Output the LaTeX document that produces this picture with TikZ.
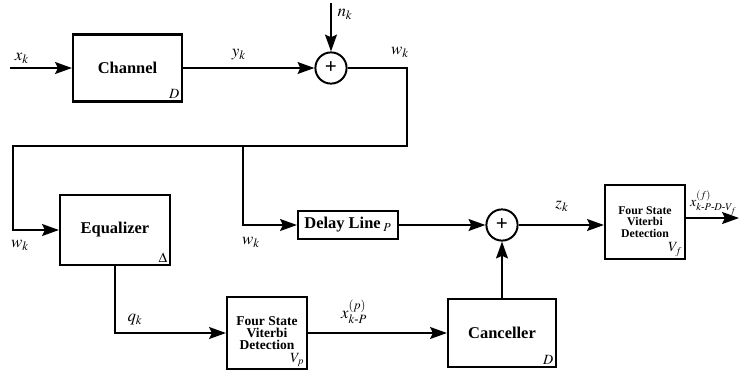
\documentclass[tikz,border=0pt]{standalone}
\usepackage{amsmath}
\usepackage{mathptmx}
\usepackage{fontspec}
\setmainfont{Liberation Serif}
\usetikzlibrary{arrows.meta, positioning}

\begin{document}
\begin{tikzpicture}[x=0.025cm, y=-0.025cm, line width=1.4pt,
    block/.style={draw, rectangle, line width=1.5pt, inner sep=0pt,
      font=\fontsize{11.7}{13}\selectfont\bfseries},
    vitbox/.style={block, align=center, font=\fontsize{9.6}{8.4}\selectfont\bfseries},
    sumnode/.style={draw, circle, minimum size=0.78cm, inner sep=0pt,
      font=\fontsize{15}{15}\selectfont\bfseries},
    corner/.style={anchor=south east, inner sep=2pt, font=\fontsize{10}{10}\selectfont},
    sig/.style={font=\fontsize{12}{13}\selectfont},
    flow/.style={-{Stealth[length=12pt, width=8.5pt, inset=2pt]}}]
  \useasboundingbox (0,0) rectangle (739,371);

  % blocks
  \node[block, minimum width=2.725cm, minimum height=1.675cm] (chan) at (127.5,68) {Channel};
  \node[corner] (chanD) at (chan.south east) {$D$};
  \node[sumnode] (sum1) at (331,68) {+};
  \node[block, minimum width=2.75cm, minimum height=1.75cm] (eq) at (115,230) {Equalizer};
  \node[corner] (eqD) at (eq.south east) {$\Delta$};
  \node[block, minimum width=2.5cm, minimum height=0.7cm] (delay) at (348,225) {Delay Line\,$_{P}$};
  \node[sumnode] (sum2) at (502,225) {+};
  \node[vitbox, minimum width=2cm, minimum height=1.85cm,
    font=\fontsize{8.4}{8.4}\selectfont\bfseries] (vitf) at (645,222) {Four State\\Viterbi\\Detection};
  \node[corner] (vitfV) at (vitf.south east) {$V_f$};
  \node[vitbox, minimum width=2cm, minimum height=1.8cm] (vitp) at (267,333) {Four State\\Viterbi\\Detection};
  \node[corner] (vitpV) at (vitp.south east) {$V_p$};
  \node[block, minimum width=2.7cm, minimum height=1.7cm] (canc) at (502,333) {Canceller};
  \node[corner] (cancD) at (canc.south east) {$D$};

  % free ends and corners
  \coordinate (xin) at (10,68);
  \coordinate (nin) at (331,3);
  \coordinate (wdown) at (407,146);
  \coordinate (wleft) at (13,146);
  \coordinate (wbranch) at (243,146);
  \coordinate (sumout) at (vitf.west |- sum2);
  \coordinate (xout) at (739,218);

  % connectors
  \draw[flow] (xin) -- (chan);
  \draw[flow] (chan) -- (sum1);
  \draw[flow] (nin) -- (sum1);
  \draw[flow] (sum1) -| (wdown) -- (wleft) |- (eq);
  \draw[flow] (wbranch) |- (delay);
  \draw[flow] (delay) -- (sum2);
  \draw[flow] (canc) -- (sum2);
  \draw[flow] (sum2) -- (sumout);
  \draw[flow] (vitf.east |- xout) -- (xout);
  \draw[flow] (eq) |- (vitp);
  \draw[flow] (vitp) -- (canc);

  % signal labels
  \node[sig] (xk) at (22,58) {$x_k$};
  \node[sig] (yk) at (239,55) {$y_k$};
  \node[sig] (nk) at (345,14) {$n_k$};
  \node[sig] (wk1) at (400,52) {$w_k$};
  \node[sig] (wk2) at (20,245) {$w_k$};
  \node[sig] (wk3) at (251,242) {$w_k$};
  \node[sig] (qk) at (135,320) {$q_k$};
  \node[sig] (xp) at (354,312) {$x^{(p)}_{k\text{-}P}$};
  \node[sig] (zk) at (562,206) {$z_k$};
  \node[sig, anchor=east, inner sep=0pt, font=\fontsize{10}{11}\selectfont] (xf) at (738,203)
    {$x^{(f)}_{k\text{-}P\text{-}D\text{-}V_f}$};
\end{tikzpicture}
\end{document}
